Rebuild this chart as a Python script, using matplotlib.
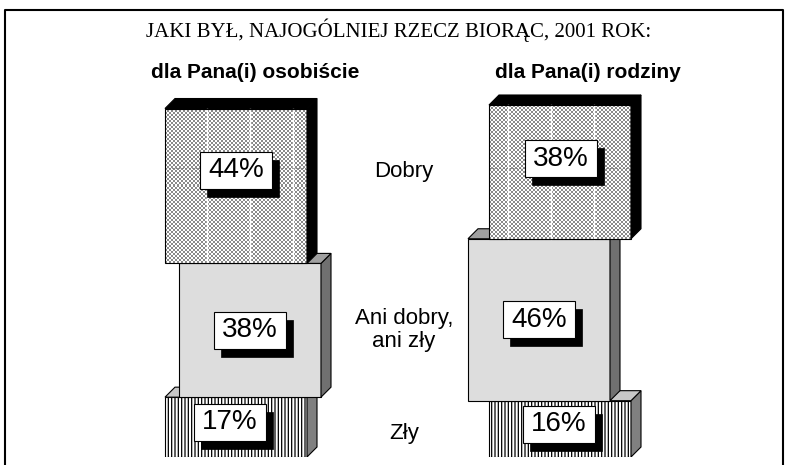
import numpy as np
import matplotlib.pyplot as plt
from matplotlib.patches import Rectangle, Polygon
from matplotlib.colors import ListedColormap

# data (bottom -> top in the stack)
categories = ["Zły", "Ani dobry,\nani zły", "Dobry"]
osobiscie = [17, 38, 44]
rodziny = [16, 46, 38]
column_titles = ["dla Pana(i) osobiście", "dla Pana(i) rodziny"]
title = "JAKI BYŁ, NAJOGÓLNIEJ RZECZ BIORĄC, 2001 ROK:"

# layout (x in pixels, y in percent)
W = 142
DX = 10
DY = 10 / 3.52
left_x = [[165, 179, 165], [489, 468, 489]]
label_frac = [0.58, 0.5, 0.6]
label_dx = [[-6, 0, 0], [-1, 0, 1]]

fronts = ["stripes", "#dddddd", "checker"]
sides = ["#808080", "#707070", "black"]
tops = ["#c8c8c8", "#a0a0a0", "black"]

plt.rcParams["hatch.linewidth"] = 0.9
fig = plt.figure(figsize=(7.9, 4.65), dpi=100)
ax = fig.add_axes([0, 8 / 465, 1, 110 * 3.52 / 465])
ax.set_xlim(0, 790)
ax.set_ylim(0, 110)
ax.axis("off")

checker_cmap = ListedColormap(["#8a8a8a", "white"])


def draw_block(x0, y0, h, i, z):
    kind = fronts[i]
    if kind == "stripes":
        ax.add_patch(Rectangle((x0, y0), W, h, facecolor="white", edgecolor="black",
                               hatch="|||||", lw=0.8, zorder=z))
    elif kind == "checker":
        ny = int(round(h * 3.52 / 2))
        nx = W // 2
        arr = np.indices((ny, nx)).sum(axis=0) % 2
        ax.imshow(arr, cmap=checker_cmap, extent=(x0, x0 + W, y0, y0 + h),
                  interpolation="nearest", aspect="auto", zorder=z)
        for gx in range(207, 640, 43):
            if x0 + 2 < gx < x0 + W - 2:
                ax.plot([gx, gx], [y0, y0 + h], color="white", lw=1.0, zorder=z + 0.1)
        gy = (457 - 168) / 3.52
        if y0 < gy < y0 + h:
            ax.plot([x0, x0 + W], [gy, gy], color="#777777", lw=0.6, ls=(0, (2, 2)), zorder=z + 0.1)
        ax.add_patch(Rectangle((x0, y0), W, h, facecolor="none", edgecolor="black",
                               lw=0.8, zorder=z + 0.2))
    else:
        ax.add_patch(Rectangle((x0, y0), W, h, facecolor=kind, edgecolor="black",
                               lw=0.8, zorder=z))
    side = [(x0 + W, y0), (x0 + W + DX, y0 + DY), (x0 + W + DX, y0 + h + DY), (x0 + W, y0 + h)]
    top = [(x0, y0 + h), (x0 + DX, y0 + h + DY), (x0 + W + DX, y0 + h + DY), (x0 + W, y0 + h)]
    ax.add_patch(Polygon(side, closed=True, facecolor=sides[i], edgecolor="black", lw=0.8, zorder=z))
    ax.add_patch(Polygon(top, closed=True, facecolor=tops[i], edgecolor="black", lw=0.8, zorder=z))


def draw_label(cx, cy, text, z):
    bw, bh = 72, 37 / 3.52
    sx, sy = 7, 8 / 3.52
    ax.add_patch(Rectangle((cx - bw / 2 + sx, cy - bh / 2 - sy), bw, bh, facecolor="black",
                           edgecolor="black", lw=0.5, zorder=z))
    ax.add_patch(Rectangle((cx - bw / 2, cy - bh / 2), bw, bh, facecolor="white",
                           edgecolor="black", lw=0.8, zorder=z + 0.1))
    ax.text(cx, cy, text, ha="center", va="center", fontsize=20,
            family="Liberation Sans", zorder=z + 0.2)


for col, values in enumerate([osobiscie, rodziny]):
    base = 0
    for i, v in enumerate(values):
        z = 2 + i * 2
        x0 = left_x[col][i]
        draw_block(x0, base, v, i, z)
        cx = x0 + W / 2 + label_dx[col][i]
        cy = base + v * label_frac[i]
        draw_label(cx, cy, f"{v}%", z + 1)
        base += v

# category labels in the middle
mid_y = [(457 - 433) / 3.52, (457 - 330) / 3.52, (457 - 172) / 3.52]
for name, y in zip(categories, mid_y):
    ax.text(404, y, name, ha="center", va="center", fontsize=16,
            family="Liberation Sans", linespacing=1.1)

# headings and title
fig.text(399 / 790, 1 - 30 / 465, title, ha="center", va="center", fontsize=15,
         family="Liberation Serif")
fig.text(255 / 790, 1 - 72 / 465, column_titles[0], ha="center", va="center", fontsize=15,
         fontweight="bold", family="Liberation Sans")
fig.text(588 / 790, 1 - 72 / 465, column_titles[1], ha="center", va="center", fontsize=15,
         fontweight="bold", family="Liberation Sans")

# frame
fx = [5 / 790, 5 / 790, 783 / 790, 783 / 790]
fy = [0, 1 - 10 / 465, 1 - 10 / 465, 0]
fig.add_artist(plt.Line2D(fx, fy, color="black", lw=1.5, transform=fig.transFigure))

fig.savefig("out.png", dpi=100)
